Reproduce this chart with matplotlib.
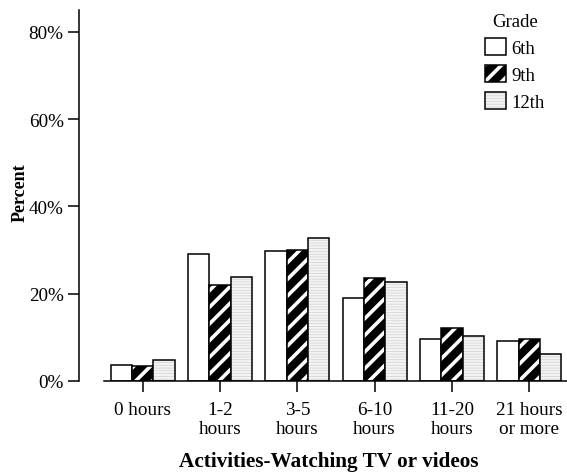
import numpy as np
import matplotlib
matplotlib.use("Agg")
import matplotlib.pyplot as plt

# --- Data ---
categories = ["0 hours", "1-2\nhours", "3-5\nhours", "6-10\nhours", "11-20\nhours", "21 hours\nor more"]
grades = ["6th", "9th", "12th"]
pct_6th = [3.6, 29.2, 29.8, 19.1, 9.7, 9.2]
pct_9th = [3.5, 22.0, 29.9, 23.5, 12.1, 9.6]
pct_12th = [4.9, 23.9, 32.8, 22.7, 10.2, 6.2]
yticks = [0, 20, 40, 60, 80]

plt.rcParams["font.family"] = ["Liberation Serif", "DejaVu Serif"]
plt.rcParams["hatch.linewidth"] = 2.6

STRIPE = (1, 1, 1, 1)
DOTS = (0.82, 0.82, 0.82, 1)


def style_patch(p, kind):
    # hatch colour is normally tied to the edge colour, so override it
    if kind == "9th":
        p._hatch_color = STRIPE
    elif kind == "12th":
        p._hatch_color = DOTS
        if hasattr(p, "set_hatch_linewidth"):
            p.set_hatch_linewidth(0.5)


fig = plt.figure(figsize=(5.67, 4.77), dpi=100)
ax = fig.add_axes([104 / 567, 1 - 382 / 477, 464 / 567, 371 / 477])

x = np.arange(len(categories))
w = 0.277
lw = 1.1

b6 = ax.bar(x - w, pct_6th, w, facecolor="white", edgecolor="black", linewidth=lw)
b9 = ax.bar(x, pct_9th, w, facecolor="black", edgecolor="black", linewidth=lw, hatch="//")
b12 = ax.bar(x + w, pct_12th, w, facecolor="#f4f4f4", edgecolor="black", linewidth=lw, hatch="------")
for p in b9:
    style_patch(p, "9th")
for p in b12:
    style_patch(p, "12th")

ax.set_xlim(-0.5, 5.5)
ax.set_ylim(0, 85)
ax.set_yticks(yticks)
ax.set_yticklabels([f"{v}%" for v in yticks])
ax.set_xticks(x)
ax.set_xticklabels(categories, linespacing=1.12)

for s in ("top", "right"):
    ax.spines[s].set_visible(False)
ax.spines["left"].set_position(("outward", 18))
ax.spines["left"].set_bounds(0, 85)
for s in ("left", "bottom"):
    ax.spines[s].set_linewidth(1.1)
ax.tick_params(axis="both", length=8, width=1.1, labelsize=13.8, colors="black")
ax.tick_params(axis="x", pad=6.5)
ax.tick_params(axis="y", pad=3)

ax.set_xlabel("Activities-Watching TV or videos", fontsize=15.3, fontweight="bold")
ax.xaxis.set_label_coords(0.484, -0.19)
ax.set_ylabel("Percent", fontsize=13, fontweight="bold")
ax.yaxis.set_label_coords(-0.163, 0.511)

leg = ax.legend(handles=[b6, b9, b12], labels=grades, title="Grade",
                loc="upper left", bbox_to_anchor=(485 / 567, 1 - 14 / 477),
                bbox_transform=fig.transFigure, frameon=False, fontsize=13.5,
                title_fontsize=13.5, handlelength=1.1, handleheight=1.05,
                handletextpad=0.3, labelspacing=0.42, borderpad=0, borderaxespad=0)
for h, g in zip(leg.legend_handles, grades):
    style_patch(h, g)

fig.savefig("out.png", dpi=100)
